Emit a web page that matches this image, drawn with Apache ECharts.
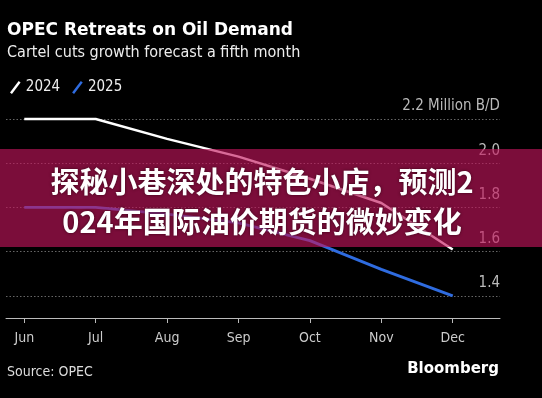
<!DOCTYPE html>
<html><head><meta charset="utf-8">
<script src="https://cdn.jsdelivr.net/npm/echarts@6/dist/echarts.min.js"></script>
<style>html,body{margin:0;padding:0;background:#000;}#c{width:542px;height:398px;}</style>
</head><body><div id="c"></div>
<script>
const months = ['Jun','Jul','Aug','Sep','Oct','Nov','Dec'];
const y2024 = [2.2, 2.2, 2.11, 2.03, 1.93, 1.82, 1.61];
const y2025 = [1.8, 1.8, 1.77, 1.73, 1.65, 1.52, 1.4];
const yTicks = [1.4, 1.6, 1.8, 2.0, 2.2];
const xIdx = months.map((m, i) => i);

const cond = '"DejaVu Sans Condensed","Liberation Sans Narrow","DejaVu Sans"';
const chart = echarts.init(document.getElementById('c'));
chart.setOption({
  backgroundColor: '#000',
  animation: false,
  grid: { left: 6, right: 42, top: 119, bottom: 80 },
  legend: {
    left: 5, top: 75, itemWidth: 13, itemHeight: 13, itemGap: 12,
    icon: 'path://M0,12 L9,0 L11,1.5 L2,13.5 Z',
    textStyle: { color: '#eee', fontSize: 15, fontFamily: cond, padding: [0, 0, 0, -1] },
    data: ['2024', '2025']
  },
  xAxis: {
    type: 'value', min: -0.256, max: 6.662,
    axisLine: { lineStyle: { color: '#bbb', width: 1 } },
    axisTick: { show: true, length: 5, customValues: xIdx, lineStyle: { color: '#bbb' } },
    axisLabel: { customValues: xIdx, formatter: v => months[Math.round(v)], color: '#ccc', fontSize: 14, fontFamily: cond, margin: 13 },
    splitLine: { show: false }
  },
  yAxis: {
    type: 'value', position: 'right', min: 1.3, max: 2.2,
    axisLine: { show: false },
    axisTick: { show: false, customValues: yTicks },
    axisLabel: {
      customValues: yTicks, inside: true, margin: 0,
      verticalAlign: 'bottom', padding: [0, 0, 5, 0],
      formatter: v => Math.abs(v - 2.2) < 1e-6 ? '2.2 Million B/D' : v.toFixed(1),
      color: '#bbb', fontSize: 15, fontFamily: cond
    },
    splitLine: { show: true, lineStyle: { type: [1.5, 2], color: '#666', width: 1 } }
  },
  series: [
    { name: '2024', type: 'line', data: xIdx.map(i => [i, y2024[i]]), showSymbol: false, clip: false,
      lineStyle: { color: '#fff', width: 2.5 }, itemStyle: { color: '#fff' } },
    { name: '2025', type: 'line', data: xIdx.map(i => [i, y2025[i]]), showSymbol: false, clip: false,
      lineStyle: { color: '#2f6ce0', width: 2.8 }, itemStyle: { color: '#2f6ce0' } }
  ],
  graphic: [
    { type: 'text', left: 7, top: 22, style: { text: 'OPEC Retreats on Oil Demand', fill: '#fff', font: 'bold 17px "DejaVu Sans"' } },
    { type: 'text', left: 7, top: 45, style: { text: 'Cartel cuts growth forecast a fifth month', fill: '#eee', font: '16px ' + cond } },
    { type: 'text', left: 7, top: 365, style: { text: 'Source: OPEC', fill: '#ddd', font: '14px ' + cond } },
    { type: 'text', right: 43, top: 362, style: { text: 'Bloomberg', fill: '#fff', font: 'bold 15px "DejaVu Sans"' } },
    { type: 'rect', z: 100, shape: { x: 0, y: 149, width: 542, height: 98 }, style: { fill: 'rgba(195,20,92,0.63)' } },
    { type: 'text', z: 101, style: {
        text: '探秘小巷深处的特色小店，预测2\n024年国际油价期货的微妙变化',
        x: 262, y: 202, align: 'center', verticalAlign: 'middle',
        font: 'bold 29px "Noto Sans CJK SC"', lineHeight: 40, fill: '#fff',
        textShadowColor: 'rgba(40,0,15,0.8)', textShadowBlur: 3 } }
  ]
});
</script></body></html>
